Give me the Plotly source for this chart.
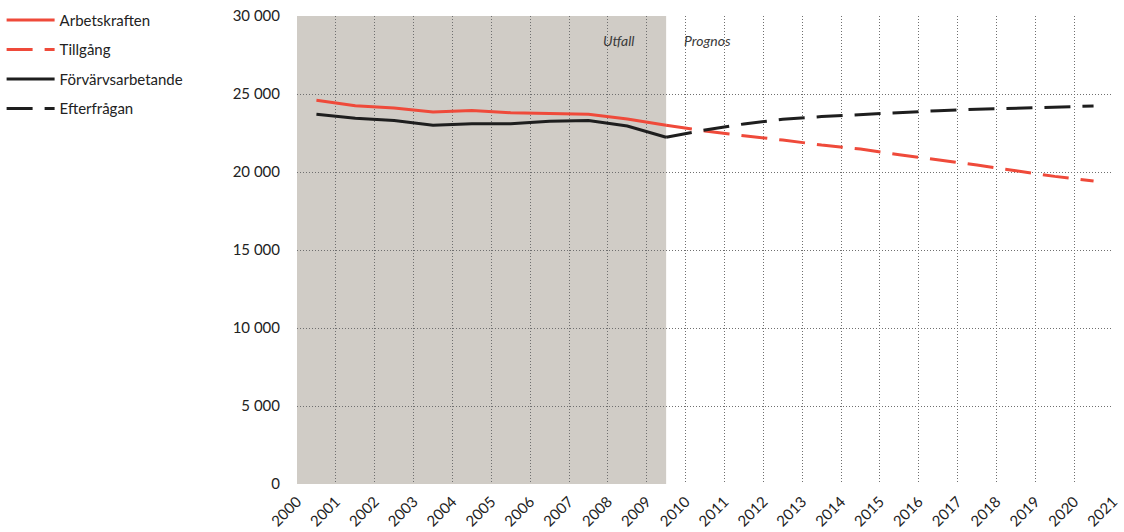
import plotly.graph_objects as go

# ---- data ----
years_hist = [2000, 2001, 2002, 2003, 2004, 2005, 2006, 2007, 2008, 2009]
arbetskraften = [24600, 24250, 24100, 23850, 23950, 23800, 23750, 23700, 23400, 23000]
forvarvsarbetande = [23700, 23450, 23300, 23000, 23100, 23100, 23250, 23300, 22950, 22230]

years_prog = [2009, 2010, 2011, 2012, 2013, 2014, 2015, 2016, 2017, 2018, 2019, 2020]
tillgang = [23000, 22630, 22320, 22050, 21730, 21470, 21110, 20800, 20450, 20080, 19720, 19420]
efterfragan = [22230, 22690, 23080, 23380, 23550, 23690, 23830, 23930, 24020, 24080, 24170, 24230]

tick_years = list(range(2000, 2022))
y_ticks = [0, 5000, 10000, 15000, 20000, 25000, 30000]
y_labels = ["0", "5 000", "10 000", "15 000", "20 000", "25 000", "30 000"]

RED = "#ef4a3a"
BLACK = "#1e1e1e"
SHADE = "#d0ccc6"
FONT = "Lato"
GRID = "#6f6f6f"

# values are annual, plotted at mid-year
def mid(ys):
    return [y + 0.5 for y in ys]

fig = go.Figure()
fig.add_trace(go.Scatter(x=mid(years_hist), y=arbetskraften, mode="lines",
                         name="Arbetskraften", legendgroup="a",
                         line=dict(color=RED, width=3)))
fig.add_trace(go.Scatter(x=mid(years_prog), y=tillgang, mode="lines",
                         name="Tillgång", legendgroup="b",
                         line=dict(color=RED, width=3, dash="26px,12px")))
fig.add_trace(go.Scatter(x=mid(years_hist), y=forvarvsarbetande, mode="lines",
                         name="Förvärvsarbetande", legendgroup="c",
                         line=dict(color=BLACK, width=3)))
fig.add_trace(go.Scatter(x=mid(years_prog), y=efterfragan, mode="lines",
                         name="Efterfrågan", legendgroup="d",
                         line=dict(color=BLACK, width=3, dash="26px,12px")))

# shaded "Utfall" region up to last observed point
fig.add_shape(type="rect", xref="x", yref="y",
              x0=years_hist[0], x1=mid(years_hist)[-1], y0=0, y1=30000,
              fillcolor=SHADE, line_width=0, layer="below")

fig.add_annotation(x=2008.75, y=28450, text="<i>Utfall</i>", showarrow=False,
                   xanchor="right", yanchor="middle",
                   font=dict(family=FONT, size=14, color="#3a3a3a"))
fig.add_annotation(x=2009.9, y=28450, text="<i>Prognos</i>", showarrow=False,
                   xanchor="left", yanchor="middle",
                   font=dict(family=FONT, size=14, color="#3a3a3a"))

fig.update_layout(
    width=1124, height=532,
    margin=dict(l=297, r=11, t=16, b=48, autoexpand=False),
    paper_bgcolor="white", plot_bgcolor="rgba(0,0,0,0)",
    font=dict(family=FONT, size=15, color="#222222"),
    legend=dict(x=-0.362, y=1.026, xanchor="left", yanchor="top",
                font=dict(family=FONT, size=15, color="#222222"),
                tracegroupgap=7, itemwidth=48, bgcolor="rgba(0,0,0,0)"),
    showlegend=True,
)
fig.update_xaxes(range=[2000, 2021], tickmode="array", tickvals=tick_years,
                 ticktext=[str(y) for y in tick_years], tickangle=-45,
                 showgrid=True, gridcolor=GRID, griddash="1px,2px", gridwidth=1,
                 zeroline=False, showline=False, ticks="", automargin=False,
                 ticklabelstandoff=5,
                 tickfont=dict(family=FONT, size=15, color="#222222"))
fig.update_yaxes(range=[0, 30000], tickmode="array", tickvals=y_ticks,
                 ticktext=y_labels, showgrid=True, gridcolor=GRID,
                 griddash="1px,2px", gridwidth=1, zeroline=False, showline=False,
                 ticks="", ticklabelstandoff=16, automargin=False,
                 tickfont=dict(family=FONT, size=15, color="#222222"))

fig.write_html("out.html", config={"displayModeBar": False},
               post_script="document.body.style.margin='0';")
